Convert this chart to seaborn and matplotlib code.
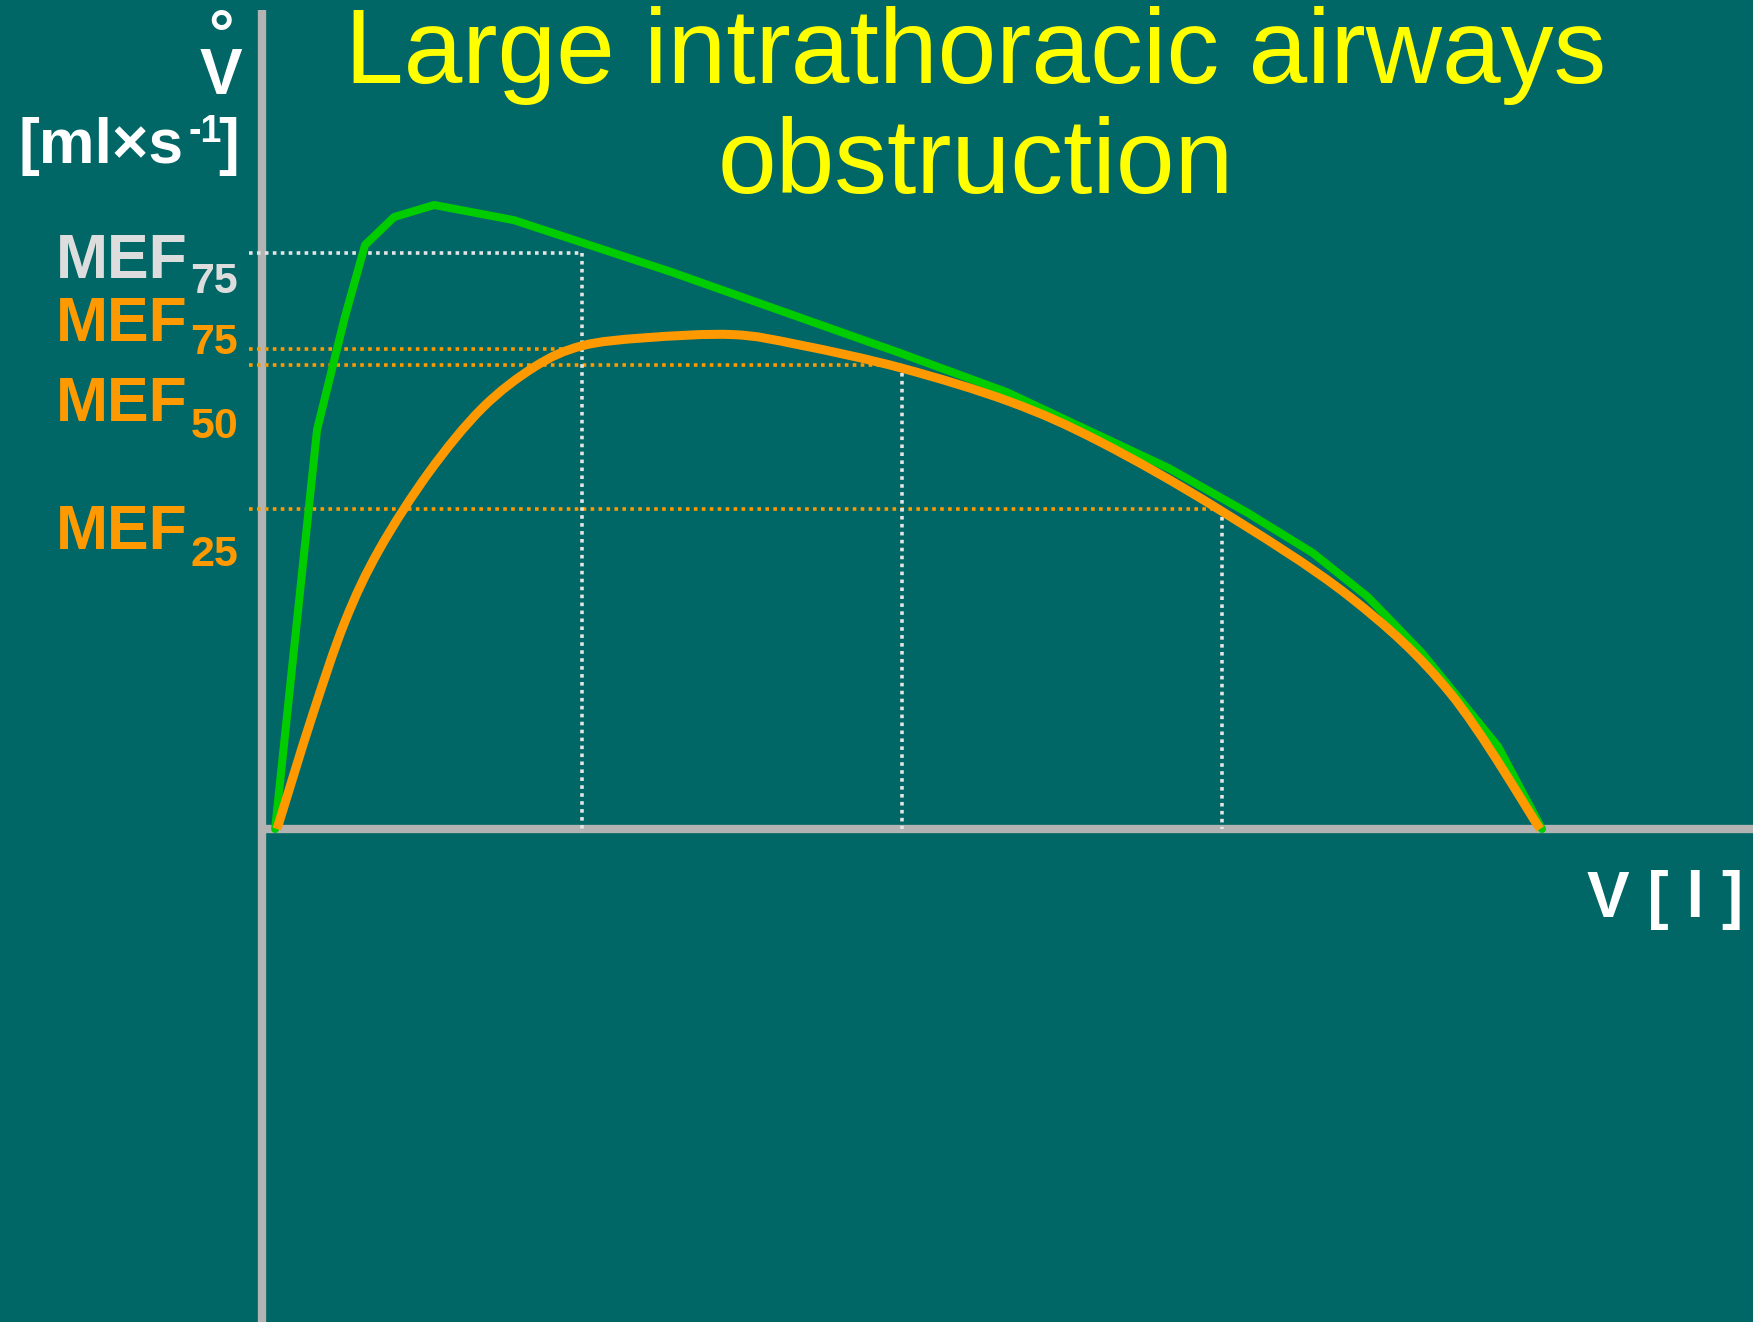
import matplotlib
matplotlib.use("Agg")
import matplotlib.pyplot as plt
from matplotlib.path import Path
from matplotlib.patches import PathPatch
import seaborn as sns
import numpy as np
import pandas as pd

# Flow-volume loops (volume in L, flow in L/s)
normal_volume = [0.041, 0.172, 0.259, 0.322, 0.413, 0.538, 0.788, 1.281, 1.994, 2.328,
                 2.834, 3.081, 3.284, 3.456, 3.625, 3.863, 4.000]
normal_flow = [0.00, 4.99, 6.40, 7.30, 7.65, 7.80, 7.61, 6.96, 5.95, 5.46,
               4.51, 3.95, 3.45, 2.90, 2.20, 1.03, 0.00]

obstructed_volume = [0.047, 0.156, 0.259, 0.366, 0.522, 0.688, 0.853, 1.000, 1.197,
                     1.472, 1.681, 2.000, 2.338, 2.619, 2.984, 3.400, 3.713, 3.994]
obstructed_flow = [0.00, 1.40, 2.59, 3.49, 4.46, 5.26, 5.78, 6.04, 6.14,
                   6.18, 6.05, 5.76, 5.34, 4.84, 4.01, 2.90, 1.70, 0.00]

# Expired-volume marks (25/50/75 % of FVC) and the matching MEF levels
mark_volume = [1.0, 2.0, 3.0]
mef_normal_75 = 7.2
mef_obstructed = [6.0, 5.8, 4.0]   # MEF75, MEF50, MEF25

BG = "#006666"
GREEN = "#00CC00"
ORANGE = "#FF9900"
GREY = "#B3B3B3"
DOT_WHITE = "#E4E4E4"
LABEL_WHITE = "#DDDDDD"
YELLOW = "#FFFF00"

W, H = 1753, 1322
sns.set_theme(style="white")
plt.rcParams["font.family"] = ["Liberation Sans", "DejaVu Sans"]

fig = plt.figure(figsize=(W / 100, H / 100), dpi=100, facecolor=BG)
ax = fig.add_axes([0, 0, 1, 1])
ax.set_facecolor(BG)
ax.set_xlim(-262 / 320, (W - 262) / 320)
ax.set_ylim((829 - H) / 80, 829 / 80)
ax.axis("off")

# Axes of the diagram
ax.plot([0, 0], [10.24, (829 - H) / 80], color=GREY, lw=6, solid_capstyle="butt", zorder=1)
ax.plot([-0.012, 4.66], [0, 0], color=GREY, lw=6, solid_capstyle="butt", zorder=1)

dot = dict(lw=2.6, linestyle=(0, (1, 1.2)), zorder=2)
x_start = -0.04
# Normal MEF75 guide
ax.plot([x_start, mark_volume[0]], [mef_normal_75, mef_normal_75], color=DOT_WHITE, **dot)
# Obstructed MEF guides
for v, f in zip(mark_volume, mef_obstructed):
    ax.plot([x_start, v], [f, f], color=ORANGE, **dot)
# Vertical volume marks
ax.plot([mark_volume[0]] * 2, [mef_normal_75, 0], color=DOT_WHITE, **dot)
ax.plot([mark_volume[1]] * 2, [mef_obstructed[1], 0], color=DOT_WHITE, **dot)
ax.plot([mark_volume[2]] * 2, [mef_obstructed[2], 0], color=DOT_WHITE, **dot)

# Normal loop: straight segments between measured points
normal = pd.DataFrame({"volume": normal_volume, "flow": normal_flow})
sns.lineplot(data=normal, x="volume", y="flow", sort=False, estimator=None,
             color=GREEN, lw=5.8, ax=ax, zorder=3)
ax.set_xlabel("")
ax.set_ylabel("")


def smooth_path(xs, ys):
    """Cubic Bezier (Catmull-Rom) path passing through every point."""
    pts = np.column_stack([xs, ys]).astype(float)
    n = len(pts)
    verts = [pts[0]]
    codes = [Path.MOVETO]
    for i in range(n - 1):
        p0 = pts[i - 1] if i > 0 else pts[i]
        p1, p2 = pts[i], pts[i + 1]
        p3 = pts[i + 2] if i + 2 < n else pts[i + 1]
        verts += [p1 + (p2 - p0) / 6, p2 - (p3 - p1) / 6, p2]
        codes += [Path.CURVE4] * 3
    return Path(verts, codes)


# Obstructed loop: smooth curve through the measured points
ax.add_patch(PathPatch(smooth_path(obstructed_volume, obstructed_flow),
                       facecolor="none", edgecolor=ORANGE, lw=6.5,
                       capstyle="butt", joinstyle="round", zorder=4))


def ptext(x, y, s, **kw):
    fig.text(x / W, 1 - y / H, s, va=kw.pop("va", "baseline"), **kw)


# Title
ptext(976, 83, "Large intrathoracic airways", ha="center", color=YELLOW, fontsize=76)
ptext(976, 193, "obstruction", ha="center", color=YELLOW, fontsize=76)

# Flow axis label (V with ring above)
ptext(221, 94, "°\nV", ha="center", ma="center", color="white", fontsize=46,
      fontweight="bold", linespacing=0.56)
ptext(184, 163, "[ml×s", ha="right", color="white", fontsize=45, fontweight="bold")
ptext(188, 142, "-1", ha="left", color="white", fontsize=27, fontweight="bold")
ptext(239, 163, "]", ha="right", color="white", fontsize=45, fontweight="bold")

# Volume axis label
ptext(1743, 917, "V [ l ]", ha="right", color="white", fontsize=46, fontweight="bold")

# MEF labels
labels = [
    (277.5, 293, "75", LABEL_WHITE),
    (340.6, 354, "75", ORANGE),
    (421, 438, "50", ORANGE),
    (549, 566, "25", ORANGE),
]
for base, sub_base, sub, col in labels:
    ptext(188, base, "MEF", ha="right", color=col, fontsize=45, fontweight="bold")
    ptext(238, sub_base, sub, ha="right", color=col, fontsize=31, fontweight="bold")

fig.savefig("out.png", dpi=100, facecolor=BG)
